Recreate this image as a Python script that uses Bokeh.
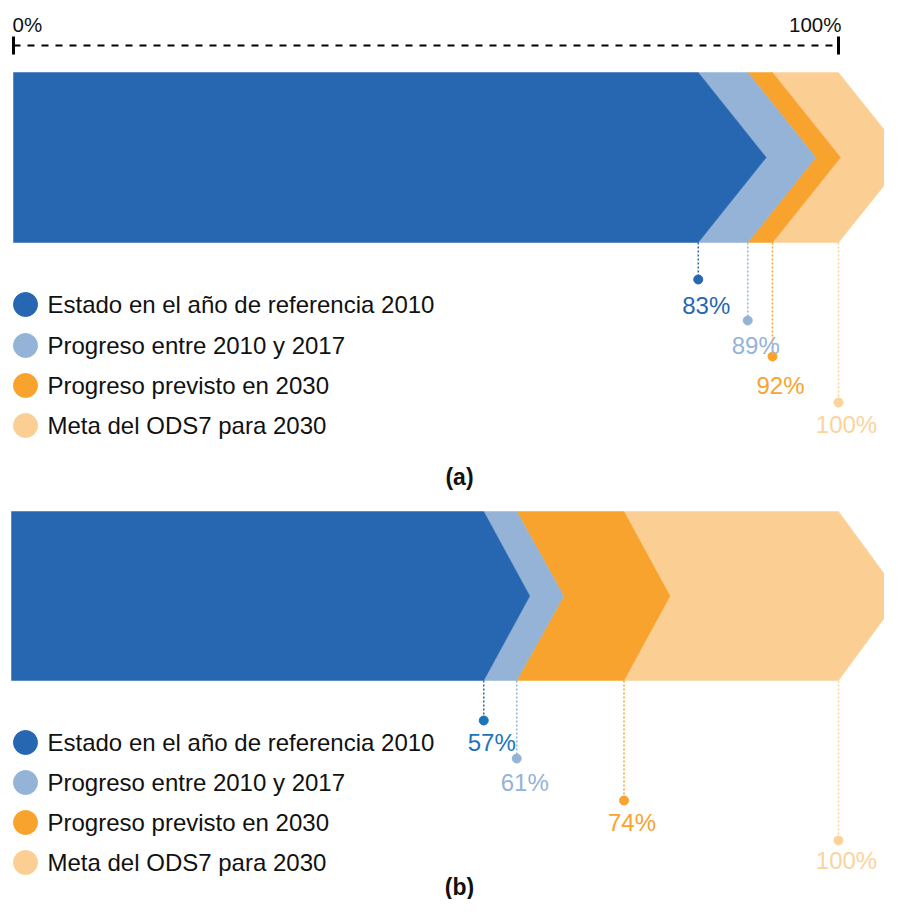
from bokeh.plotting import figure
from bokeh.models import Range1d, ColumnDataSource
from bokeh.core.properties import value
from bokeh.embed import file_html
from bokeh.resources import INLINE

# ---------------- data ----------------
categories = [
    "Estado en el año de referencia 2010",
    "Progreso entre 2010 y 2017",
    "Progreso previsto en 2030",
    "Meta del ODS7 para 2030",
]
values_a = [83, 89, 92, 100]
values_b = [57, 61, 74, 100]
tick_values = [0, 100]
tick_labels = ["0%", "100%"]
panel_labels = ["(a)", "(b)"]

# ---------------- style ----------------
seg_colors = ["#2767b1", "#95b3d7", "#f8a32e", "#fbcf93"]
label_colors_a = ["#2767b1", "#95b3d7", "#f8a32e", "#fbd39c"]
label_colors_b = ["#1b75bc", "#95b3d7", "#f8a32e", "#fbd39c"]
FONT = value("Liberation Sans")

W, H = 884, 899
PX = 8.25          # pixels per percent unit
X0 = 13            # pixel position of 0 % inside the figure

p = figure(width=W, height=H, output_backend="svg", toolbar_location=None,
           x_range=Range1d(-X0 / PX, (W - X0) / PX),
           y_range=Range1d(H, 0))
p.axis.visible = False
p.grid.visible = False
p.outline_line_color = None
p.min_border = 0
p.background_fill_color = "white"
p.border_fill_color = "white"


def px(n):
    return n / PX


# ---------------- top scale ----------------
AX_Y = 45
p.segment(x0=[tick_values[0]], y0=[AX_Y], x1=[tick_values[-1]], y1=[AX_Y],
          line_color="black", line_width=2, line_dash="7 7")
p.segment(x0=tick_values, y0=[AX_Y - 9] * 2, x1=tick_values, y1=[AX_Y + 9] * 2,
          line_color="black", line_width=3)
p.text(x=[tick_values[0]], y=[24], text=[tick_labels[0]], text_font=FONT,
       text_font_size="20.5px", text_align="left", text_baseline="middle",
       text_color="#111111", x_offset=-1)
p.text(x=[tick_values[1]], y=[24], text=[tick_labels[1]], text_font=FONT,
       text_font_size="20.5px", text_align="right", text_baseline="middle",
       text_color="#111111", x_offset=3)


def panel(values, top, bottom, depths, dot_dy, lab_dy, leg_dy, title_y, title,
          lab_colors, x_left):
    mid = (top + bottom) / 2
    xs, ys = [], []
    prev = None
    for i, v in enumerate(values):
        d = depths[i]
        if prev is None:
            xs.append([x_left, v, v + d, v, x_left])
            ys.append([top, top, mid, bottom, bottom])
        else:
            pd_ = depths[i - 1]
            xs.append([prev, v, v + d, v, prev, prev + pd_])
            ys.append([top, top, mid, bottom, bottom, mid])
        prev = v
    src = ColumnDataSource(dict(xs=xs[::-1], ys=ys[::-1], c=seg_colors[::-1]))
    p.patches("xs", "ys", source=src, fill_color="c", line_color="c",
              line_width=0.5)

    dot_y = [bottom + dy for dy in dot_dy]
    lab_y = [bottom + dy for dy in lab_dy]
    p.segment(x0=values, y0=[bottom] * 4, x1=values, y1=dot_y,
              line_color=seg_colors, line_width=1.5, line_dash="2 2")
    p.scatter(x=values, y=dot_y, size=9, color=lab_colors)
    p.text(x=values, y=lab_y, text=[f"{v}%" for v in values], text_font=FONT,
           text_font_size="24px", text_align="center", text_baseline="middle",
           text_color=lab_colors, x_offset=8)

    leg_y = [bottom + dy for dy in leg_dy]
    p.scatter(x=[px(12)] * 4, y=leg_y, size=24, color=seg_colors)
    p.text(x=[px(34)] * 4, y=leg_y, text=categories, text_font=FONT,
           text_font_size="24px", text_align="left", text_baseline="middle",
           text_color="#111111")

    p.text(x=[px(446)], y=[title_y], text=[title], text_font=FONT,
           text_font_size="23px", text_font_style="bold", text_align="center",
           text_baseline="middle", text_color="#111111")


panel(values_a, 72, 242, [px(68)] * 4, [37, 78, 114, 160], [63, 103, 143, 182],
      [62, 103, 143, 183], 476, panel_labels[0], label_colors_a, 0)
panel(values_b, 511, 680, [px(46), px(47), px(46), px(62)], [40, 78, 120, 160],
      [62, 102, 142, 180], [62, 102, 142, 182], 886, panel_labels[1],
      label_colors_b, px(-2))

open("out.html", "w").write(file_html(p, INLINE))
